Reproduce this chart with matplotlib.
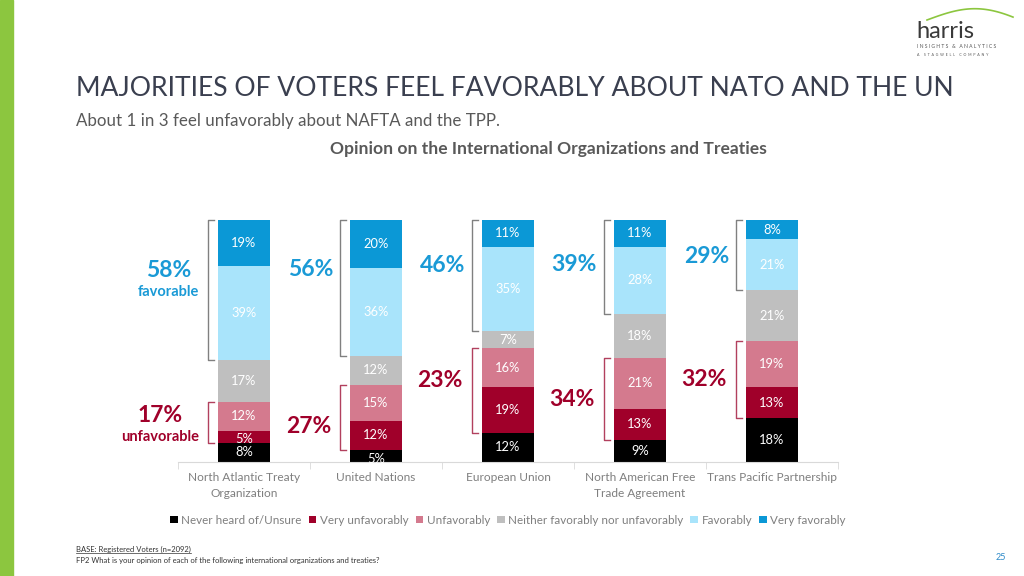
import matplotlib
matplotlib.use("Agg")
import matplotlib.pyplot as plt
from matplotlib.patches import Patch
from matplotlib.lines import Line2D
import numpy as np

plt.rcParams['font.family'] = ['Lato', 'DejaVu Sans']

categories = ["North Atlantic Treaty\nOrganization", "United Nations", "European Union",
              "North American Free\nTrade Agreement", "Trans Pacific Partnership"]
series_names = ["Never heard of/Unsure", "Very unfavorably", "Unfavorably",
                "Neither favorably nor unfavorably", "Favorably", "Very favorably"]
never_heard = [8, 5, 12, 9, 18]
very_unfav = [5, 12, 19, 13, 13]
unfav = [12, 15, 16, 21, 19]
neither = [17, 12, 7, 18, 21]
favorably = [39, 36, 35, 28, 21]
very_fav = [19, 20, 11, 11, 8]
total_favorable = [58, 56, 46, 39, 29]
total_unfavorable = [17, 27, 23, 34, 32]

# layout tweaks (pixel offsets of the total labels from bracket middles)
fav_label_dy = [0, 18, 10, 3, -1]
unf_label_dy = [0, -9, 10, 0, 0]

colors = ["#000000", "#A0002A", "#D47A8E", "#BFBFBF", "#A9E4FB", "#0B98D6"]
BLUE = "#1A9AD6"
RED = "#A0002A"

fig = plt.figure(figsize=(10.24, 5.76), dpi=100)
W, H = 1024, 576

def fx(px):
    return px / W

def fy(py):
    return 1 - py / H

# green side bar
fig.patches.append(plt.Rectangle((0, 0), fx(13), 1, transform=fig.transFigure,
                                 color="#8CC63F", zorder=0))

# titles
fig.text(fx(76), fy(88), "MAJORITIES OF VOTERS FEEL FAVORABLY ABOUT NATO AND THE UN",
         fontsize=19.1, color="#3A3F4F", va="center", ha="left")
fig.text(fx(76), fy(121), "About 1 in 3 feel unfavorably about NAFTA and the TPP.",
         fontsize=12.2, color="#595959", va="center", ha="left")
fig.text(fx(548), fy(149), "Opinion on the International Organizations and Treaties",
         fontsize=12.6, color="#595959", va="center", ha="center", fontweight="bold")

# logo
fig.text(fx(916), fy(31), "harris", fontsize=17, color="#3A3A3A", va="center", ha="left")
t_arc = np.linspace(0, 1, 50)
arc_x = 927 + 86 * t_arc
arc_y = 20 - 13 * np.sin(np.pi * t_arc * 0.85) + 3 * t_arc
fig.add_artist(Line2D(fx(arc_x), fy(arc_y), transform=fig.transFigure, color="#8CC63F", lw=1.2))
fig.text(fx(917), fy(46), " ".join("INSIGHTS & ANALYTICS"), fontsize=3.6, color="#555555",
         va="center", ha="left")
fig.text(fx(917), fy(55), "  ".join("A STAGWELL COMPANY"), fontsize=2.6, color="#555555",
         va="center", ha="left")

# main axes
ax = fig.add_axes([fx(178), fy(462), fx(838) - fx(178), (462 - 220) / H])
x = np.arange(len(categories))
bw = 0.39
data = [never_heard, very_unfav, unfav, neither, favorably, very_fav]
bottom = np.zeros(len(categories))
for vals, c, name in zip(data, colors, series_names):
    vals = np.array(vals, dtype=float)
    ax.bar(x, vals, bw, bottom=bottom, color=c, label=name, zorder=2)
    for xi, b, v in zip(x, bottom, vals):
        ax.text(xi, b + v / 2 - (1.2 if v <= 5 else 0), f"{int(v)}%", ha="center", va="center",
                fontsize=9.3, color="white", zorder=3)
    bottom += vals

ax.set_xlim(-0.5, len(categories) - 0.5)
ax.set_ylim(0, 100)
for s in ["top", "right", "left"]:
    ax.spines[s].set_visible(False)
ax.spines["bottom"].set_color("#D9D9D9")
ax.set_yticks([])
ax.set_xticks(x)
ax.set_xticklabels(categories, fontsize=8.6, color="#7F7F7F", linespacing=1.55)
ax.tick_params(axis="x", length=0, pad=7)
ax.set_xticks(np.arange(-0.5, len(categories), 1.0), minor=True)
ax.tick_params(axis="x", which="minor", length=5, color="#D9D9D9")

# brackets and totals
px_per_unit = (838 - 178) / len(categories)
bx_off = 36 / px_per_unit
tick = 6 / px_per_unit
never = np.array(never_heard)
unf_lo = never
unf_hi = never + np.array(very_unfav) + np.array(unfav)
fav_lo = unf_hi + np.array(neither)
fav_hi = fav_lo + np.array(favorably) + np.array(very_fav)

fig.canvas.draw()
renderer = fig.canvas.get_renderer()

def bracket(xc, y0, y1, col):
    bx = xc - bx_off
    ax.plot([bx + tick, bx, bx, bx + tick], [y0, y0, y1, y1], color=col, lw=1.0,
            solid_joinstyle="round", zorder=1, clip_on=False)
    return bx

for i in range(len(categories)):
    bx = bracket(x[i], fav_lo[i], fav_hi[i], "#808080")
    ymid = (fav_lo[i] + fav_hi[i]) / 2
    bx2 = bracket(x[i], unf_lo[i], unf_hi[i], "#B2405E")
    ymid2 = (unf_lo[i] + unf_hi[i]) / 2
    if i == 0:
        w1 = ax.annotate("favorable", (bx, ymid), xytext=(-9, -2), textcoords="offset pixels",
                         ha="right", va="center", fontsize=10.5, fontweight="bold", color=BLUE)
        bb = w1.get_window_extent(renderer)
        cx = (bb.x0 + bb.x1) / 2
        ax.annotate(f"{total_favorable[i]}%", (cx, bb.y1 + 4), xycoords="figure pixels",
                    ha="center", va="bottom", fontsize=16.5, fontweight="bold", color=BLUE)
        w2 = ax.annotate("unfavorable", (bx2, ymid2), xytext=(-9, -15), textcoords="offset pixels",
                         ha="right", va="center", fontsize=10.5, fontweight="bold", color=RED)
        bb = w2.get_window_extent(renderer)
        cx = (bb.x0 + bb.x1) / 2
        ax.annotate(f"{total_unfavorable[i]}%", (cx, bb.y1 + 4), xycoords="figure pixels",
                    ha="center", va="bottom", fontsize=16.5, fontweight="bold", color=RED)
    else:
        ax.annotate(f"{total_favorable[i]}%", (bx, ymid), xytext=(-7, fav_label_dy[i]),
                    textcoords="offset pixels",
                    ha="right", va="center", fontsize=16.5, fontweight="bold", color=BLUE)
        ax.annotate(f"{total_unfavorable[i]}%", (bx2, ymid2), xytext=(-9, unf_label_dy[i]),
                    textcoords="offset pixels",
                    ha="right", va="center", fontsize=16.5, fontweight="bold", color=RED)

# legend
handles = [Patch(facecolor=c, edgecolor="none") for c in colors]
fig.legend(handles, series_names, loc="center", bbox_to_anchor=(fx(508), fy(520)), ncol=6,
           frameon=False, fontsize=8.4, labelcolor="#7F7F7F", handlelength=0.65, handleheight=0.65,
           handletextpad=0.3, columnspacing=0.6)

# footnotes
base = fig.text(fx(76), fy(549), "BASE: Registered Voters (n=2092)", fontsize=5.5,
                color="#333333", va="center", ha="left")
bb = base.get_window_extent(renderer)
fig.add_artist(Line2D([bb.x0 / W, bb.x1 / W], [(bb.y0 - 0.5) / H] * 2, transform=fig.transFigure,
                      color="#333333", lw=0.5))
fig.text(fx(76), fy(561), "FP2 What is your opinion of each of the following international organizations and treaties?",
         fontsize=5.5, color="#333333", va="center", ha="left")
fig.text(fx(1001), fy(558), "25", fontsize=6.5, color="#2E8BC9", va="center", ha="center")

fig.savefig("out.png", dpi=100)
